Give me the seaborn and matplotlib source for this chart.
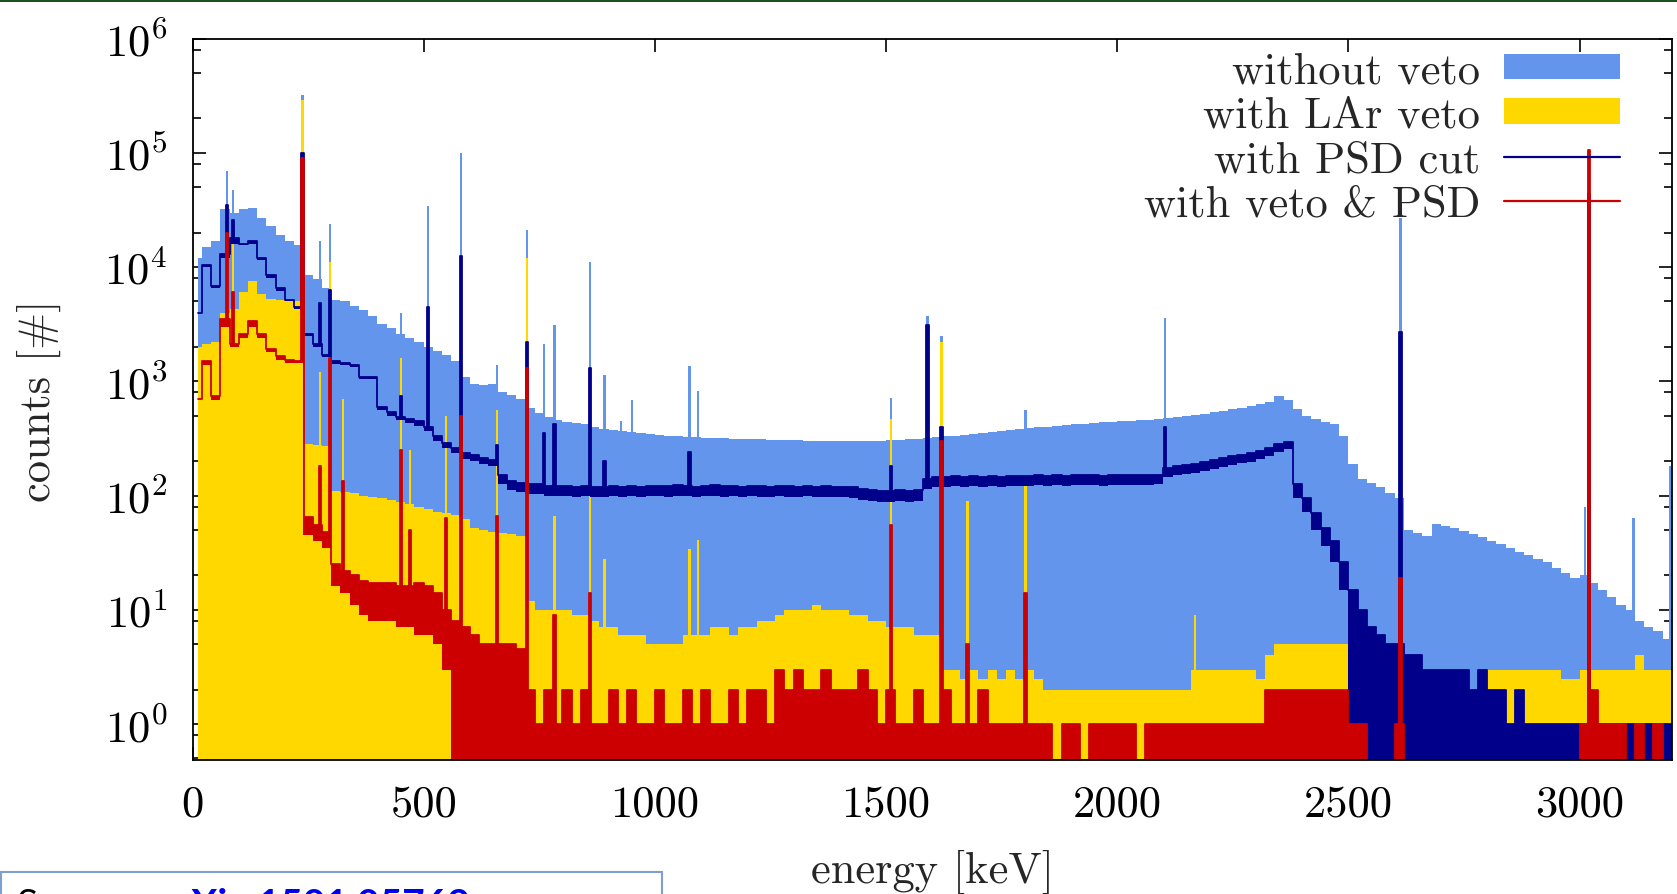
import numpy as np
import pandas as pd
import matplotlib
matplotlib.use("Agg")
import matplotlib.pyplot as plt
import seaborn as sns
from matplotlib.ticker import LogLocator, NullFormatter, LogFormatterSciNotation
from matplotlib.patches import Patch, Rectangle
from matplotlib.lines import Line2D

# ---------------------------------------------------------------- data
# continuum bins (keV): first bin 12-20, then 20 keV wide up to 3200
CONT_EDGES = np.array([12] + list(range(20, 3201, 20)), dtype=float)

# without veto (filled) -- one row = 200 keV
blue_cont = [
    12000, 15000, 17000, 32000, 30000, 32000, 33000, 27000, 23000, 19000,
    17000, 15500, 8500, 7800, 6500, 5200, 5000, 4600, 4200, 3700,
    3200, 2900, 2600, 2400, 2200, 2000, 1850, 1700, 1500, 1100,
    950, 920, 950, 800, 760, 700, 580, 530, 490, 455,
    440, 430, 420, 395, 385, 375, 365, 360, 352, 345,
    338, 332, 330, 326, 324, 320, 320, 318, 315, 312,
    310, 310, 308, 306, 305, 304, 302, 300, 300, 300,
    300, 298, 298, 300, 302, 305, 308, 310, 314, 320,
    325, 330, 335, 340, 346, 352, 358, 365, 372, 380,
    388, 396, 402, 408, 414, 420, 426, 432, 438, 444,
    448, 452, 456, 462, 470, 478, 488, 498, 508, 520,
    535, 550, 568, 588, 610, 635, 665, 740, 680, 570,
    500, 470, 440, 420, 330, 190, 140, 128, 118, 105,
    95, 50, 47, 44, 56, 54, 52, 49, 46, 43,
    40, 38, 35, 32, 30, 28, 26, 23, 21, 19,
    20, 17, 15, 13, 11, 10, 8, 7, 6.5, 5.5,
]
blue_peak_e = [75, 87, 238, 276, 297, 451, 510, 580, 659, 724, 760, 783, 859, 891,
               927, 951, 1075, 1093, 1511, 1590, 1620, 1802, 2103, 2613, 3012, 3117, 3195]
blue_peak_h = [69000, 47000, 320000, 17000, 24000, 4000, 34000, 100000, 1400, 21000,
               2100, 3100, 11000, 1140, 450, 680, 1350, 820, 720, 3700, 2500, 560,
               3550, 27000, 80, 63, 180]

# with LAr veto (filled)
yellow_cont = [
    2000, 2100, 2200, 4000, 4300, 6000, 7500, 5800, 5300, 5100,
    5000, 5000, 280, 275, 270, 110, 108, 105, 100, 98,
    95, 92, 88, 84, 80, 76, 72, 70, 68, 62,
    52, 50, 48, 47, 46, 44, 12, 10, 10, 10,
    10, 9, 9, 8, 7, 7, 6, 6, 6, 5,
    5, 5, 5, 6, 6, 6, 7, 7, 6, 7,
    7, 8, 8, 9, 10, 10, 10, 11, 10, 10,
    10, 9, 9, 8, 8, 7, 7, 7, 6, 6,
    6, 3, 3, 2.5, 3, 2.5, 3, 2.5, 3, 2.5,
    3, 2.5, 2, 2, 2, 2, 2, 2, 2, 2,
    2, 2, 2, 2, 2, 2, 2, 2, 3, 3,
    3, 3, 3, 3, 3, 2.5, 4, 5, 5, 5,
    5, 5, 5, 5, 5, 4, 3.5, 3, 2.5, 2,
    2, 2, 2, 2, 2, 2, 2.5, 2, 2, 2,
    3, 3, 3, 3, 3, 3, 3, 3, 2.5, 2.5,
    3, 3, 3, 3, 3, 3, 4, 3, 3, 3,
]
yellow_peak_e = [75, 87, 238, 276, 297, 325, 451, 470, 548, 580, 659, 724, 783, 859,
                 891, 1075, 1093, 1511, 1620, 1676, 1802, 2168, 2613, 3020]
yellow_peak_h = [35000, 18000, 290000, 1200, 11000, 700, 1600, 250, 500, 700, 560,
                 12000, 66, 117, 28, 34, 41, 465, 2200, 89, 123, 9, 73, 510]

# with PSD cut (line): upper and lower edge of the noisy trace, 0 = reaches zero
navy_hi = [
    4000, 10500, 6800, 13000, 18000, 16000, 17000, 12000, 8500, 6500,
    5200, 4500, 2600, 2100, 1700, 1500, 1450, 1400, 1100, 1100,
    600, 540, 490, 470, 450, 400, 330, 290, 260, 235,
    225, 215, 205, 150, 135, 130, 125, 125, 122, 122,
    122, 120, 122, 120, 120, 122, 120, 122, 120, 122,
    122, 121, 123, 122, 120, 122, 123, 121, 122, 120,
    122, 121, 120, 122, 121, 120, 122, 120, 121, 120,
    120, 118, 115, 112, 110, 110, 112, 110, 112, 140,
    145, 145, 148, 145, 148, 145, 148, 145, 148, 148,
    148, 150, 148, 150, 148, 150, 150, 150, 148, 150,
    150, 150, 150, 150, 150, 175, 180, 185, 190, 198,
    205, 212, 220, 228, 235, 245, 260, 280, 295, 125,
    95, 70, 52, 40, 26, 15, 10, 7, 6, 5,
    5, 4, 4, 3, 3, 3, 3, 3, 2, 3,
    2, 2, 1, 2, 1, 1, 1, 1, 1, 1,
    1, 1, 1, 1, 1, 1, 1, 1, 1, 1,
]
navy_lo = [
    4000, 10000, 6500, 12000, 16000, 15500, 16000, 11500, 8000, 6200,
    5000, 4300, 2500, 2000, 1620, 1430, 1380, 1330, 1050, 1040,
    560, 500, 455, 430, 410, 365, 300, 262, 235, 210,
    200, 190, 180, 125, 112, 108, 104, 103, 100, 100,
    100, 98, 100, 98, 98, 100, 98, 100, 98, 100,
    100, 98, 100, 100, 98, 100, 100, 98, 100, 98,
    100, 98, 98, 100, 98, 98, 100, 98, 98, 98,
    98, 95, 92, 90, 88, 88, 90, 88, 90, 115,
    120, 120, 122, 120, 122, 120, 122, 120, 122, 122,
    122, 124, 122, 124, 122, 124, 124, 124, 122, 124,
    124, 124, 124, 124, 125, 145, 150, 155, 158, 165,
    172, 178, 185, 192, 198, 208, 222, 240, 255, 95,
    72, 50, 36, 26, 15, 0, 0, 0, 0, 0,
    0, 0, 0, 0, 0, 0, 0, 0, 0, 0,
    0, 0, 0, 0, 0, 0, 0, 0, 0, 0,
    0, 0, 0, 0, 0, 0, 0, 0, 0, 0,
]
navy_peak_e = [75, 87, 238, 276, 297, 451, 510, 580, 659, 724, 760, 783, 859, 891,
               1075, 1511, 1590, 1620, 2103, 2613, 3020]
navy_peak_h = [35000, 26000, 100000, 4800, 6300, 740, 4500, 12600, 275, 2200, 350,
               425, 1300, 200, 240, 180, 3100, 400, 400, 2700, 44000]

# with veto & PSD (line): upper and lower edge of the noisy trace
red_hi = [
    700, 1500, 750, 3500, 2100, 2600, 3400, 2600, 1900, 1650,
    1550, 1500, 65, 55, 48, 25, 22, 20, 18, 17,
    17, 17, 16, 16, 17, 16, 14, 10, 8, 7,
    6, 5, 5, 5, 5, 4.5, 2, 1, 2, 1,
    2, 1, 2, 1, 1, 2, 1, 2, 1, 1,
    2, 1, 1, 2, 1, 2, 1, 1, 2, 1,
    2, 2, 1, 3, 2, 3, 2, 2, 3, 2,
    2, 2, 3, 2, 1, 2, 1, 1, 2, 1,
    1, 2, 1, 1, 1, 2, 1, 1, 1, 1,
    1, 1, 1, 0, 1, 1, 0, 1, 1, 1,
    1, 1, 0, 1, 1, 1, 1, 1, 1, 1,
    1, 1, 1, 1, 1, 1, 2, 2, 2, 2,
    2, 2, 2, 2, 2, 1, 1, 0, 0, 0,
    1, 0, 0, 0, 0, 0, 0, 0, 0, 0,
    0, 0, 0, 0, 0, 0, 0, 0, 0, 0,
    1, 2, 1, 1, 1, 0, 1, 0, 1, 0,
]
red_lo = [
    700, 1400, 680, 3000, 2000, 2400, 3000, 2400, 1800, 1550,
    1450, 1450, 45, 40, 35, 16, 14, 11, 9, 8,
    8, 8, 7, 7, 6, 6, 5, 3, 0, 0,
] + [0] * 130
red_peak_e = [75, 87, 238, 276, 297, 325, 451, 470, 548, 580, 659, 724, 783, 859,
              1511, 1620, 1676, 1802, 2613, 3020]
red_peak_h = [20000, 6000, 90000, 180, 1600, 135, 250, 50, 63, 500, 66, 1300, 9, 14,
              55, 300, 5, 14, 19, 105000]

labels = ["without veto", "with LAr veto", "with PSD cut", "with veto & PSD"]
x_ticks = [0, 500, 1000, 1500, 2000, 2500, 3000]

# ---------------------------------------------------------------- style
BLUE, YELLOW, NAVY, RED = "#6495ED", "#FFD800", "#00008B", "#CC0000"
PEAK_W = 5.0
FLOOR = 0.05
FS = 32

sns.set_theme(style="ticks")
plt.rcParams.update({
    "font.family": ["cmr10", "DejaVu Serif"],
    "mathtext.fontset": "cm",
    "axes.formatter.use_mathtext": True,
    "axes.unicode_minus": False,
})


def with_peaks(cont, pe, ph, lo=None):
    cuts = set(CONT_EDGES.tolist())
    for e in pe:
        cuts.update([e - PEAK_W / 2, e + PEAK_W / 2])
    edges = np.array(sorted(cuts))
    mids = 0.5 * (edges[:-1] + edges[1:])
    idx = np.clip(np.searchsorted(CONT_EDGES, mids) - 1, 0, len(cont) - 1)
    hi = np.asarray(cont, float)[idx]
    for e, h in zip(pe, ph):
        m = np.abs(mids - e) < PEAK_W / 2
        hi[m] = np.maximum(hi[m], h)
    lo_out = None if lo is None else np.asarray(lo, float)[idx]
    return edges, mids, hi, lo_out


fig = plt.figure(figsize=(16.77, 8.95), dpi=100)
ax = fig.add_axes([0.1148, 0.1492, 0.8822, 0.8066])
ax.set_yscale("log")

# filled spectra
for cont, pe, ph, col, z in [(blue_cont, blue_peak_e, blue_peak_h, BLUE, 1),
                             (yellow_cont, yellow_peak_e, yellow_peak_h, YELLOW, 2)]:
    edges, mids, hi, _ = with_peaks(cont, pe, ph)
    df = pd.DataFrame({"energy": mids, "counts": hi})
    sns.histplot(data=df, x="energy", weights="counts", bins=edges.tolist(),
                 element="step", fill=True, color=col, alpha=1, linewidth=0,
                 ax=ax, zorder=z)

# line spectra (noisy traces drawn as band + upper step line)
for hi_c, lo_c, pe, ph, col, z in [(navy_hi, navy_lo, navy_peak_e, navy_peak_h, NAVY, 3),
                                   (red_hi, red_lo, red_peak_e, red_peak_h, RED, 4)]:
    edges, mids, hi, lo = with_peaks(hi_c, pe, ph, lo_c)
    hi_d = np.where(hi > 0, hi, FLOOR)
    lo_d = np.where(lo > 0, np.minimum(lo, hi_d), FLOOR)
    ax.stairs(hi_d, edges, baseline=lo_d, fill=True, color=col, lw=0, zorder=z)
    df = pd.DataFrame({"energy": mids, "counts": hi_d})
    sns.histplot(data=df, x="energy", weights="counts", bins=edges.tolist(),
                 element="step", fill=False, color=col, linewidth=1.3,
                 ax=ax, zorder=z + 0.5)

ax.set_xlim(0, 3200)
ax.set_ylim(0.48, 1e6)
ax.set_xticks(x_ticks)
ax.set_xticklabels([str(t) for t in x_ticks])
ax.xaxis.set_minor_locator(plt.NullLocator())
ax.yaxis.set_major_locator(LogLocator(base=10, numticks=20))
ax.yaxis.set_major_formatter(LogFormatterSciNotation())
ax.yaxis.set_minor_locator(LogLocator(base=10, subs=(2.0, 5.0, 8.0), numticks=40))
ax.yaxis.set_minor_formatter(NullFormatter())
ax.tick_params(which="both", direction="in", top=True, right=True, width=1.2,
               colors="black", labelsize=FS)
ax.tick_params(which="major", length=9.5)
ax.tick_params(which="minor", length=5.8)
ax.tick_params(axis="y", which="major", pad=18)
ax.tick_params(axis="x", which="major", pad=17)
for s in ax.spines.values():
    s.set_linewidth(1.3)
    s.set_color("black")
    s.set_zorder(10)

ax.set_xlabel("energy [keV]", fontsize=FS)
ax.set_ylabel("counts [#]", fontsize=FS)
ax.xaxis.set_label_coords(0.5, -0.122)
ax.yaxis.set_label_coords(-0.089, 0.5)

handles = [Patch(facecolor=BLUE, edgecolor="none"),
           Patch(facecolor=YELLOW, edgecolor="none"),
           Line2D([], [], color=NAVY, lw=1.6),
           Line2D([], [], color=RED, lw=1.6)]
leg = ax.legend(handles, labels, loc="upper right", bbox_to_anchor=(0.9649, 0.9825),
                frameon=False, markerfirst=False, fontsize=FS, handlelength=2.6,
                handleheight=0.5, handletextpad=0.55, labelspacing=0.1, borderpad=0,
                borderaxespad=0)
leg.set_zorder(20)

# page decorations: top rule and source box
fig.add_artist(Rectangle((0, 1 - 3 / 895), 1, 3 / 895, transform=fig.transFigure,
                         facecolor="#1F4E1F", edgecolor="none"))
fig.add_artist(Rectangle((0.0005, -0.05), 661 / 1677, 0.05 + 1 - 873 / 895,
                         transform=fig.transFigure, facecolor="white",
                         edgecolor="#7F9FD0", lw=1.5))
fig.text(17 / 1677, 0.0075, "Source: ", fontsize=28, family=["Lato", "DejaVu Sans"],
         va="top", ha="left", color="black")
fig.text(470 / 1677, 0.0075, "arXiv:1501.05762", fontsize=28,
         family=["Lato", "DejaVu Sans"], weight="bold", va="top", ha="right",
         color="#0000EE")

fig.savefig("out.png", dpi=100)
